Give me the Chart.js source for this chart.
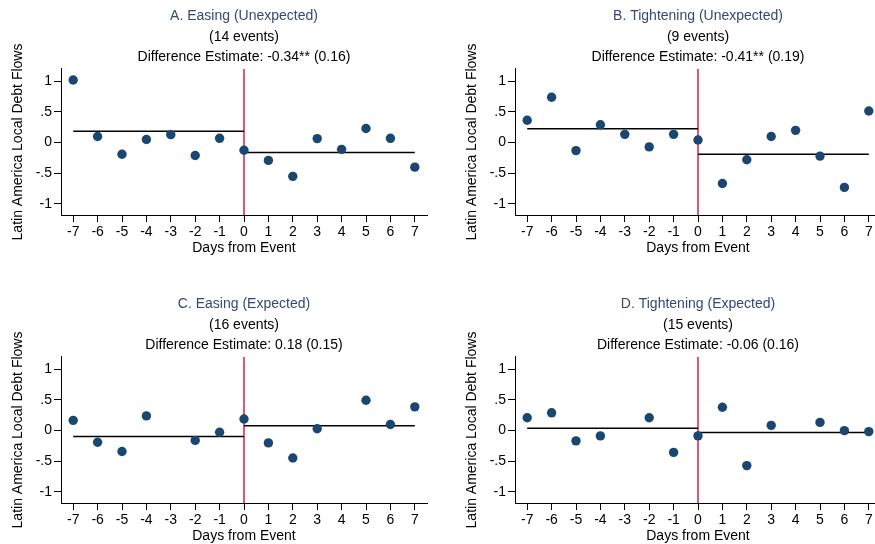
<!DOCTYPE html>
<html>
<head>
<meta charset="utf-8">
<script src="https://cdn.jsdelivr.net/npm/chart.js@4.4.1/dist/chart.umd.min.js"></script>
<style>
  html, body { margin: 0; padding: 0; background: #fff; }
  #wrap { position: relative; width: 875px; height: 544px; overflow: hidden; background: #fff; }
  canvas { position: absolute; }
</style>
</head>
<body>
<div id="wrap">
  <canvas id="panelA" width="440" height="272" style="left:0px;top:0px"></canvas>
  <canvas id="panelB" width="440" height="272" style="left:454px;top:0px"></canvas>
  <canvas id="panelC" width="440" height="272" style="left:0px;top:288px"></canvas>
  <canvas id="panelD" width="440" height="272" style="left:454px;top:288px"></canvas>
</div>
<script>
// Days around the event and the y tick labels
const days = [-7, -6, -5, -4, -3, -2, -1, 0, 1, 2, 3, 4, 5, 6, 7];
const yTicks = [-1, -0.5, 0, 0.5, 1];
const yTickLabels = ['-1', '-.5', '0', '.5', '1'];
const eventDay = 0;

// Latin America local debt flows by day (null = no observation)
const easingUnexpected = [1.02, 0.10, -0.19, 0.05, 0.13, -0.21, 0.07, -0.125, -0.29, -0.55, 0.065, -0.11, 0.23, 0.07, -0.40];
const tighteningUnexpected = [0.365, 0.74, -0.13, 0.29, 0.135, -0.07, 0.135, 0.043, -0.667, -0.28, 0.10, 0.20, -0.22, -0.73, 0.516];
const easingExpected = [0.167, -0.19, -0.34, 0.24, null, -0.16, -0.027, 0.19, -0.20, -0.446, 0.03, null, 0.495, 0.10, 0.387];
const tighteningExpected = [0.21, 0.29, -0.167, -0.086, null, 0.21, -0.355, -0.086, 0.38, -0.57, 0.086, null, 0.134, 0.0, -0.016];

// Pre / post event means
const preMeans = [0.185, 0.226, -0.097, 0.038];
const postMeans = [-0.16, -0.19, 0.08, -0.032];

const panelTitles = ['A. Easing (Unexpected)', 'B. Tightening (Unexpected)', 'C. Easing (Expected)', 'D. Tightening (Expected)'];
const eventCounts = ['(14 events)', '(9 events)', '(16 events)', '(15 events)'];
const estimates = ['Difference Estimate: -0.34** (0.16)', 'Difference Estimate: -0.41** (0.19)',
                   'Difference Estimate: 0.18 (0.15)', 'Difference Estimate: -0.06 (0.16)'];

const seriesList = [easingUnexpected, tighteningUnexpected, easingExpected, tighteningExpected];
const canvasIds = ['panelA', 'panelB', 'panelC', 'panelD'];

const FONT = "'Liberation Sans', Arial, sans-serif";
const navy = '#1a476f';

// red vertical line at the event day
const eventLine = {
  id: 'eventLine',
  beforeDatasetsDraw(chart) {
    const { ctx, chartArea, scales } = chart;
    const x = scales.x.getPixelForValue(eventDay);
    ctx.save();
    ctx.strokeStyle = '#d2103c';
    ctx.lineWidth = 1.4;
    ctx.beginPath();
    ctx.moveTo(x, chartArea.top);
    ctx.lineTo(x, chartArea.bottom);
    ctx.stroke();
    ctx.restore();
  }
};

function makePanel(i) {
  const values = seriesList[i];
  const points = days.map((d, k) => ({ x: d, y: values[k] })).filter(p => p.y !== null);
  const firstDay = days[0];
  const lastDay = days[days.length - 1];

  new Chart(document.getElementById(canvasIds[i]), {
    type: 'scatter',
    data: {
      datasets: [
        {
          data: points,
          backgroundColor: navy,
          borderWidth: 0,
          pointRadius: 4.7,
          order: 0
        },
        {
          type: 'line',
          data: [{ x: firstDay, y: preMeans[i] }, { x: eventDay, y: preMeans[i] }],
          borderColor: '#000',
          borderWidth: 1.5,
          pointRadius: 0,
          order: 1
        },
        {
          type: 'line',
          data: [{ x: eventDay, y: postMeans[i] }, { x: lastDay, y: postMeans[i] }],
          borderColor: '#000',
          borderWidth: 1.5,
          pointRadius: 0,
          order: 1
        }
      ]
    },
    options: {
      responsive: false,
      animation: false,
      layout: { padding: { left: 0, right: 13, top: 0, bottom: 0 } },
      plugins: {
        legend: { display: false },
        tooltip: { enabled: false },
        title: {
          display: true,
          text: panelTitles[i],
          color: '#344878',
          fullSize: false,
          font: { family: FONT, size: 14, weight: 'normal', lineHeight: 1.464 },
          padding: { top: 6, bottom: 0 }
        },
        subtitle: {
          display: true,
          text: [eventCounts[i], estimates[i]],
          color: '#000',
          fullSize: false,
          font: { family: FONT, size: 14, weight: 'normal', lineHeight: 1.464 },
          padding: { top: 0, bottom: 1.5 }
        }
      },
      scales: {
        x: {
          type: 'linear',
          min: -7.5,
          max: 7.5,
          afterBuildTicks: s => { s.ticks = days.map(v => ({ value: v })); },
          afterFit: s => { s.height = 57; },
          grid: { display: true, drawOnChartArea: false, drawTicks: true, tickLength: 7, tickColor: '#000' },
          border: { display: true, color: '#000', width: 1 },
          ticks: {
            color: '#000', padding: 2, autoSkip: false, maxRotation: 0,
            font: { family: FONT, size: 14 },
            callback: v => String(v)
          },
          title: {
            display: true, text: 'Days from Event', color: '#000',
            font: { family: FONT, size: 14 },
            padding: { top: 0, bottom: 15.6 }
          }
        },
        y: {
          type: 'linear',
          min: -1.18,
          max: 1.2,
          afterBuildTicks: s => { s.ticks = yTicks.map(v => ({ value: v })); },
          afterFit: s => { s.width = 61; },
          grid: { display: true, drawOnChartArea: false, drawTicks: true, tickLength: 7, tickColor: '#000' },
          border: { display: true, color: '#000', width: 1 },
          ticks: {
            color: '#000', padding: 2,
            font: { family: FONT, size: 14 },
            callback: (v, idx) => yTickLabels[idx]
          },
          title: {
            display: true, text: 'Latin America Local Debt Flows', color: '#000',
            font: { family: FONT, size: 14 },
            padding: { top: 10, bottom: 0 }
          }
        }
      }
    },
    plugins: [eventLine]
  });
}

for (let i = 0; i < 4; i++) makePanel(i);
</script>
</body>
</html>
